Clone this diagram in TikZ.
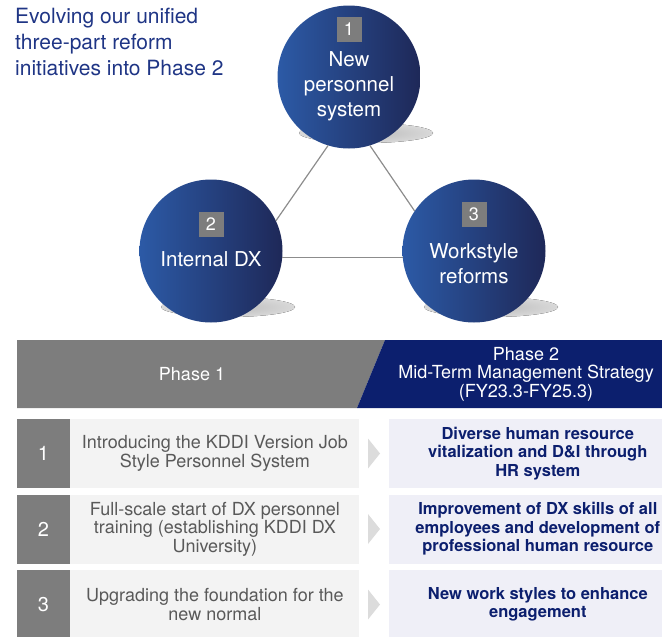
\documentclass[tikz,border=0pt]{standalone}
\usepackage{fontspec}
\setmainfont{TeX Gyre Heros}
\usetikzlibrary{positioning}
\definecolor{KdNavy}{HTML}{0C1F6E}
\definecolor{KdTitle}{HTML}{1F3585}
\definecolor{KdBallL}{HTML}{2C5AA6}
\definecolor{KdBallR}{HTML}{1E2858}
\definecolor{KdGray}{HTML}{7D7D7D}
\definecolor{KdText}{HTML}{595959}
\definecolor{KdPale}{HTML}{F3F3F3}
\definecolor{KdLilac}{HTML}{EFEFF7}
\definecolor{KdLine}{HTML}{8C8C8C}
\definecolor{KdArrow}{HTML}{DCDCDC}

\begin{document}
\begin{tikzpicture}[x=1pt,y=-1pt,
  ball/.style={circle,minimum size=143pt,inner sep=0pt,left color=KdBallL,right color=KdBallR},
  balltxt/.style={text=white,align=center,inner sep=0pt,font=\fontsize{20.5}{25}\selectfont},
  badge/.style={fill=KdGray,text=white,minimum size=25pt,inner sep=0pt,font=\fontsize{18}{18}\selectfont},
  link/.style={draw=KdLine,line width=1.2pt},
  hdtxt/.style={text=white,align=center,inner sep=0pt,font=\fontsize{18}{18.5}\selectfont},
  numbox/.style={fill=KdGray,text=white,minimum width=53pt,minimum height=69pt,inner sep=0pt,font=\fontsize{20}{20}\selectfont},
  oldbox/.style={fill=KdPale,text=KdText,minimum width=289pt,minimum height=69pt,inner sep=0pt,align=center,font=\fontsize{18}{18.5}\selectfont},
  newbox/.style={fill=KdLilac,text=KdNavy,minimum width=298pt,minimum height=69pt,inner sep=0pt,align=center,font=\bfseries\fontsize{16.5}{18.5}\selectfont}]
  \useasboundingbox (0,0) rectangle (662,637);
  \clip (0,0) rectangle (662,637);

  \node[anchor=north west,align=left,inner sep=0pt,text=KdTitle,font=\fontsize{21}{26}\selectfont] (title) at (15,8)
    {Evolving our unified\\three-part reform\\initiatives into Phase 2};

  % the three reform circles
  \coordinate (p1) at (349,77);
  \coordinate (p2) at (211,251);
  \coordinate (p3) at (474,251);
  \foreach \p in {p1,p2,p3}
    \fill[inner color=black!27,outer color=black!15] ([shift={(17,56)}]\p) ellipse [x radius=67pt,y radius=10pt];
  \node[ball] (c1) at (p1) {};
  \node[ball] (c2) at (p2) {};
  \node[ball] (c3) at (p3) {};
  \draw[link] (c1.253) -- (c2.25);
  \draw[link] (c1.287) -- (c3.146);
  \draw[link] (c2.-5) -- (c3.185);

  \node[badge] (b1) at (349,29.5) {1};
  \node[badge] (b2) at (211,224) {2};
  \node[badge] (b3) at (474,214.5) {3};
  \node[balltxt] (t1) at (349,86) {New\\personnel\\system};
  \node[balltxt] (t2) at (211,259) {Internal DX};
  \node[balltxt] (t3) at (474,264) {Workstyle\\reforms};

  % phase header
  \fill[KdGray] (17,340) -- (385,340) -- (357,408) -- (17,408) -- cycle;
  \fill[KdNavy] (385,340) -- (662,340) -- (662,408) -- (357,408) -- cycle;
  \node[hdtxt] (ph1) at (192,374) {Phase 1};
  \node[hdtxt] (ph2) at (526,374) {Phase 2\\Mid-Term Management Strategy\\(FY23.3-FY25.3)};

  % rows: number, phase 1 item, phase 2 item
  \foreach \i/\y/\old/\new in {
    1/453.5/{Introducing the KDDI Version Job\\Style Personnel System}/{Diverse human resource\\vitalization and D\&I through\\HR system},
    2/529/{Full-scale start of DX personnel\\training (establishing KDDI DX\\University)}/{Improvement of DX skills of all\\employees and development of\\professional human resource},
    3/604.5/{Upgrading the foundation for the\\new normal}/{New work styles to enhance\\engagement}}{
    \node[numbox] (n\i) at (43.5,\y) {\i};
    \node[oldbox,right=0pt of n\i] (o\i) {\old};
    \fill[KdArrow] (368,\y-15) -- (380,\y) -- (368,\y+15) -- cycle;
    \node[newbox,right=29pt of o\i] (w\i) {\new};
  }
\end{tikzpicture}
\end{document}
